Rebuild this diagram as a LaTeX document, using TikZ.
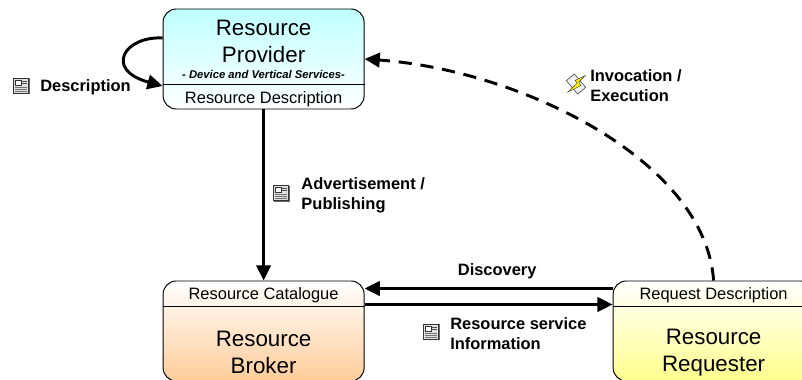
\documentclass[tikz,border=0pt]{standalone}
\usepackage{fontspec}
\setmainfont{Liberation Sans}
\usetikzlibrary{arrows.meta}

\begin{document}
\begin{tikzpicture}
\clip (0,0) rectangle (20.05,9.5);
\tikzstyle{box} = [draw, rounded corners=0.33cm, minimum width=5.025cm, minimum height=2.5cm, line width=0.7pt];
\tikzstyle{big} = [align=center, font=\fontsize{15.9}{19}\selectfont];
\tikzstyle{sub} = [font=\fontsize{11.7}{13}\selectfont, inner sep=0pt];
\tikzstyle{lab} = [align=left, anchor=west, inner sep=0pt, font=\fontsize{11.7}{14.2}\selectfont\bfseries];
\tikzstyle{arr} = [-{Triangle[length=0.38cm,width=0.36cm]}, line width=2.1pt];
\tikzset{docicon/.pic={
\fill[black!60] (-0.17,-0.21) rectangle (0.21,0.19);
\draw[black!80, fill=black!12, line width=0.4pt] (-0.2,-0.18) rectangle (0.18,0.2);
\draw[black!80, fill=white, line width=0.4pt] (-0.14,0.03) rectangle (0.0,0.15);
\draw[black!70, line width=0.4pt] (0.03,0.13) -- (0.14,0.13) (0.03,0.07) -- (0.14,0.07);
\foreach \y in {-0.03,-0.08,-0.13} \draw[black!55, line width=0.5pt] (-0.15,\y) -- (0.14,\y);
}};
\tikzset{bolticon/.pic={
\draw[black!65, fill=black!6, line width=0.5pt, rotate=40] (-0.13,-0.22) rectangle (0.13,0.22);
\draw[black!80, fill=yellow, line width=0.3pt] (0.23,0.21) -- (-0.02,0.09) -- (0.03,0.02) -- (-0.2,-0.2) -- (0.12,-0.04) -- (0.07,0.05) -- cycle;
}};

\node[box, top color=cyan!25, bottom color=white] (provider) at (6.59,8.025) {};
\node[box, top color=white, bottom color=orange!40] (broker) at (6.59,1.225) {};
\node[box, top color=white, bottom color=yellow!45] (requester) at (17.84,1.225) {};

\node[big] (providertxt) at (6.59,8.46) {Resource\\Provider};
\node[inner sep=0pt, font=\fontsize{8}{9}\selectfont\bfseries\itshape] (services) at (6.59,7.65) {- Device and Vertical Services-};
\node[sub] (rdesc) at (6.59,7.02) {Resource Description};
\draw[line width=0.7pt] (provider.west |- 0,7.4) -- (provider.east |- 0,7.4);

\node[sub] (catalogue) at (6.59,2.12) {Resource Catalogue};
\node[big] (brokertxt) at (6.59,0.69) {Resource\\Broker};
\draw[line width=0.7pt] (broker.west |- 0,1.85) -- (broker.east |- 0,1.85);

\node[sub] (reqdesc) at (17.84,2.12) {Request Description};
\node[big] (requestertxt) at (17.84,0.69) {Resource\\Requester};
\draw[line width=0.7pt] (requester.west |- 0,1.85) -- (requester.east |- 0,1.85);

\draw[arr] (provider.south) -- (broker.north);
\draw[arr, dash pattern=on 0.33cm off 0.22cm] (requester.north) .. controls (17.63,5.5) and (13,7.75) .. (provider.east);
\draw[arr] (provider.west |- 0,8.55) .. controls (3.1,8.6) and (2.6,7.75) .. (provider.west |- 0,7.35);
\draw[arr] ([yshift=-0.2cm]requester.north west) -- ([yshift=-0.2cm]broker.north east);
\draw[arr] ([yshift=-0.6cm]broker.north east) -- ([yshift=-0.6cm]requester.north west);

\pic at (0.53,7.35) {docicon};
\node[lab] (descr) at (1,7.33) {Description};
\pic at (7.03,4.67) {docicon};
\node[lab] (advert) at (7.53,4.62) {Advertisement /\\Publishing};
\pic at (14.4,7.4) {bolticon};
\node[lab] (invoke) at (14.75,7.37) {Invocation /\\Execution};
\node[lab, anchor=center] (discover) at (12.43,2.72) {Discovery};
\pic at (10.78,1.2) {docicon};
\node[lab] (info) at (11.25,1.17) {Resource service\\Information};
\end{tikzpicture}
\end{document}
